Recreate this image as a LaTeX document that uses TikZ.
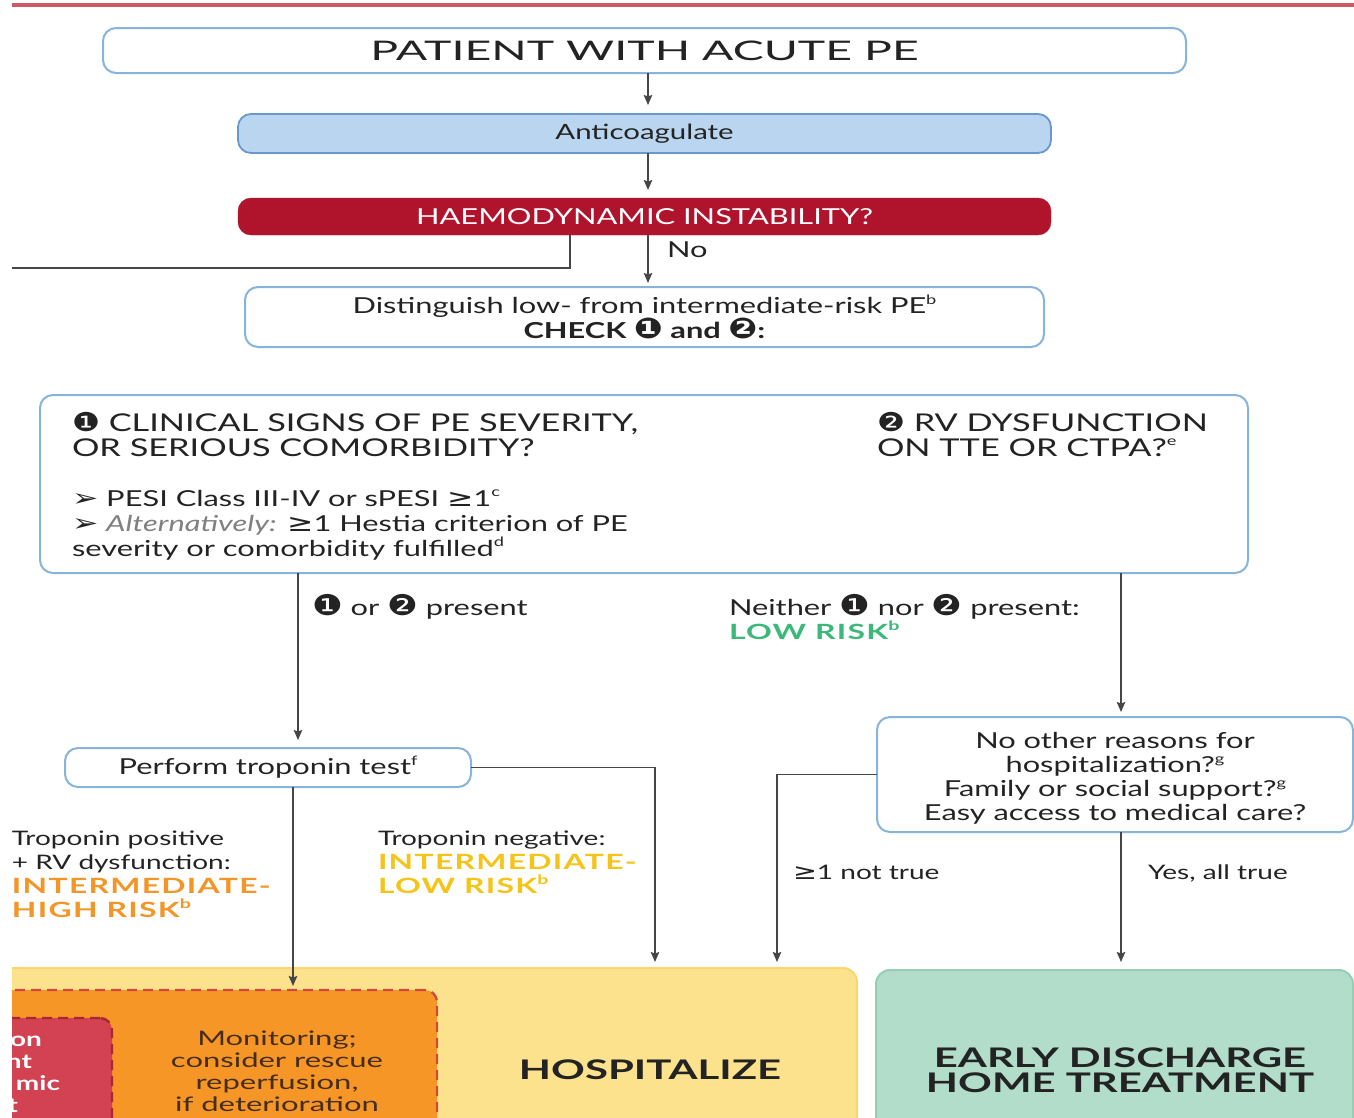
\documentclass[tikz,border=0pt]{standalone}
\usepackage{fontspec}
\setmainfont{Lato}[FakeStretch=1.4]
\newfontfamily\titlef{Lato}[FakeStretch=1.72]
\newfontfamily\widef{Lato}[FakeStretch=1.55]
\newfontfamily\riskf{Lato}[FakeStretch=1.52, LetterSpace=6]
\newfontfamily\dvs{DejaVu Sans}[Scale=1.3, FakeStretch=1.2]
\newfontfamily\dvsym{DejaVu Sans}[Scale=1.1, FakeStretch=1.3]
\usetikzlibrary{arrows.meta}

\definecolor{ink}{RGB}{35,35,35}
\definecolor{lineg}{RGB}{70,70,70}
\definecolor{bord}{RGB}{135,180,218}
\definecolor{antfill}{RGB}{186,213,240}
\definecolor{antbord}{RGB}{105,152,205}
\definecolor{haemred}{RGB}{176,20,45}
\definecolor{topred}{RGB}{205,90,100}
\definecolor{lowgreen}{RGB}{60,185,120}
\definecolor{ihorange}{RGB}{243,150,40}
\definecolor{ilyellow}{RGB}{245,196,25}
\definecolor{hospfill}{RGB}{253,226,142}
\definecolor{hospbord}{RGB}{250,214,110}
\definecolor{monfill}{RGB}{245,150,38}
\definecolor{dashred}{RGB}{208,72,62}
\definecolor{critfill}{RGB}{210,66,82}
\definecolor{critbord}{RGB}{165,40,50}
\definecolor{homefill}{RGB}{177,221,202}
\definecolor{homebord}{RGB}{150,205,180}
\definecolor{monink}{RGB}{70,45,25}

\newcommand{\cone}{{\dvs ❶}}
\newcommand{\ctwo}{{\dvs ❷}}
\newcommand{\gte}{{\dvsym ≥}}
\newcommand{\bul}{{\dvsym ➢}}
\newcommand{\fs}[2]{\fontsize{#1}{#2}\selectfont}
% small raised footnote letter
\newcommand{\fn}[1]{\raisebox{0.42em}{\fontsize{13}{13}\selectfont #1}}

\begin{document}
\begin{tikzpicture}[x=1pt,y=-1pt,
  every node/.style={text=ink, inner sep=0pt, outer sep=0pt},
  bluebox/.style={draw=bord, line width=2pt, fill=white, rounded corners=13pt},
  antbox/.style={draw=antbord, line width=1.8pt, fill=antfill, rounded corners=13pt},
  redbox/.style={draw=haemred, fill=haemred, rounded corners=13pt, text=white},
  conn/.style={draw=lineg, line width=1.6pt},
  arr/.style={conn, -{Stealth[length=10pt,width=8.5pt,inset=1.5pt]}},
  txt/.style={anchor=base west, font=\fs{22}{24}},
  small/.style={anchor=base west, font=\fs{20}{24}},
  riskfont/.style={font=\riskf\fs{21}{24}\bfseries},
  dashbox/.style={line width=2.4pt, dash pattern=on 10pt off 6pt, rounded corners=12pt}
]
\useasboundingbox (0,0) rectangle (1354,1117);
\fill[white] (0,0) rectangle (1354,1117);
\clip (12,0) rectangle (1354,1117);

% helper columns
\coordinate (ax) at (648,0);
\coordinate (lx) at (570,0);
\coordinate (leftend) at (0,268);
\coordinate (px) at (298,0);
\coordinate (rx) at (1121,0);
\coordinate (tx) at (293,0);
\coordinate (hospA) at (655,962);
\coordinate (hospB) at (777,962);

% rule across the top
\draw[topred, line width=3.5pt] (12,5) -- (1354,5);

% main column
\node[bluebox, minimum width=1083pt, minimum height=45pt, font=\titlef\fs{27}{30}] (pat) at (644.5,50.5) {PATIENT WITH ACUTE PE};
\node[antbox, minimum width=813pt, minimum height=39pt, font=\fs{21}{24}] (anti) at (644.5,133.5) {Anticoagulate};
\node[redbox, minimum width=813pt, minimum height=37pt, font=\fs{22}{24}] (haem) at (644.5,216.5) {HAEMODYNAMIC INSTABILITY?};
\node[bluebox, minimum width=799pt, minimum height=60pt, font=\fs{22}{24}, align=center] (dist) at (644.5,317)
  {Distinguish low- from intermediate-risk PE\fn{b}\\ \bfseries CHECK \cone{} and \ctwo:};

\draw[arr, shorten >=9pt] (pat.south -| ax) -- (anti.north -| ax);
\draw[arr, shorten >=8pt] (anti.south -| ax) -- (haem.north -| ax);
\draw[arr, shorten >=4pt] (haem.south -| ax) -- (dist.north -| ax);
\node[txt] (no) at (667,257) {No};
\draw[conn] (haem.south -| lx) |- (leftend);

% criteria box
\node[bluebox, minimum width=1208pt, minimum height=178pt] (sev) at (644,484) {};
\node[txt, font=\fs{24.5}{26}] (s1a) at (72,431) {{\dvs\fontsize{20}{20}\selectfont ❶} CLINICAL SIGNS OF PE SEVERITY,};
\node[txt, font=\fs{24.5}{26}] (s1b) at (72,456) {OR SERIOUS COMORBIDITY?};
\node[txt] (s1c) at (72,506) {\bul{} PESI Class III-IV or sPESI \gte1\fn{c}};
\node[txt] (s1d) at (72,531) {\bul{} \textcolor{gray}{\itshape Alternatively:} \gte1 Hestia criterion of PE};
\node[txt] (s1e) at (72,556) {severity or comorbidity fulfilled\fn{d}};
\node[txt, font=\fs{24.5}{26}] (s2a) at (877,431) {{\dvs\fontsize{20}{20}\selectfont ❷} RV DYSFUNCTION};
\node[txt, font=\fs{24.5}{26}] (s2b) at (877,456) {ON TTE OR CTPA?\fn{e}};

% branches
\node[txt] (pres) at (312,615) {\cone{} or \ctwo{} present};
\node[txt] (neith) at (729,615) {Neither \cone{} nor \ctwo{} present:};
\node[txt, riskfont, text=lowgreen] (low) at (729,639) {LOW RISK\fn{b}};

\node[bluebox, minimum width=406pt, minimum height=39pt, font=\fs{22}{24}] (trop) at (268,767.5) {Perform troponin test\fn{f}};
\node[bluebox, minimum width=476pt, minimum height=115pt, font=\fs{22}{24}, align=center] (other) at (1115,774.5)
  {\rule{0pt}{24pt}No other reasons for\\ hospitalization?\fn{g}\\ Family or social support?\fn{g}\\ Easy access to medical care?};

\draw[arr, shorten >=8pt] (sev.south -| px) -- (trop.north -| px);
\draw[arr, shorten >=5pt] (sev.south -| rx) -- (other.north -| rx);

% risk labels
\node[small] (tp1) at (12,845) {Troponin positive};
\node[small] (tp2) at (12,869) {+ RV dysfunction:};
\node[txt, riskfont, text=ihorange] (tp3) at (12,893) {INTERMEDIATE-};
\node[txt, riskfont, text=ihorange] (tp4) at (12,917) {HIGH RISK\fn{b}};
\node[small] (tn1) at (378,845) {Troponin negative:};
\node[txt, riskfont, text=ilyellow] (tn2) at (378,869) {INTERMEDIATE-};
\node[txt, riskfont, text=ilyellow] (tn3) at (378,893) {LOW RISK\fn{b}};
\node[small] (nt) at (793,879) {\gte1 not true};
\node[small] (yes) at (1148,879) {Yes, all true};

% management boxes
\node[draw=hospbord, fill=hospfill, line width=2pt, rounded corners=14pt, minimum width=867pt, minimum height=200pt] (hosp) at (423.5,1068) {};
\node[dashbox, draw=dashred, fill=monfill, minimum width=447pt, minimum height=180pt] (mon) at (213.5,1080) {};
\node[dashbox, draw=critbord, fill=critfill, minimum width=122pt, minimum height=150pt] (crit) at (51,1093) {};
\node[draw=homebord, fill=homefill, line width=2pt, rounded corners=14pt, minimum width=477pt, minimum height=200pt] (home) at (1114.5,1070) {};

\node[font=\widef\fs{20}{22}, text=monink, align=center] (montxt) at (277,1071)
  {Monitoring;\\ consider rescue\\ reperfusion,\\ if deterioration};
\node[font=\fs{20}{22}\bfseries, text=white, anchor=base east] (c1) at (42,1046) {on};
\node[font=\fs{20}{22}\bfseries, text=white, anchor=base east] (c2) at (32,1068) {nt};
\node[font=\fs{20}{22}\bfseries, text=white, anchor=base east] (c3) at (60,1090) {mic};
\node[font=\fs{20}{22}\bfseries, text=white, anchor=base east] (c4) at (18,1112) {t};
\node[font=\widef\fs{27}{25}\bfseries, text=ink] (hosptxt) at (650,1070) {HOSPITALIZE};
\node[font=\widef\fs{27}{25}\bfseries, text=ink, align=center] (hometxt) at (1120,1070)
  {EARLY DISCHARGE\\ HOME TREATMENT};

\draw[arr, shorten >=4pt] (trop.south -| tx) -- (mon.north -| tx);
\draw[arr] (trop.east) -| (hospA);
\draw[arr] (other.west) -| (hospB);
\draw[arr, shorten >=8pt] (other.south -| rx) -- (home.north -| rx);
\end{tikzpicture}
\end{document}
